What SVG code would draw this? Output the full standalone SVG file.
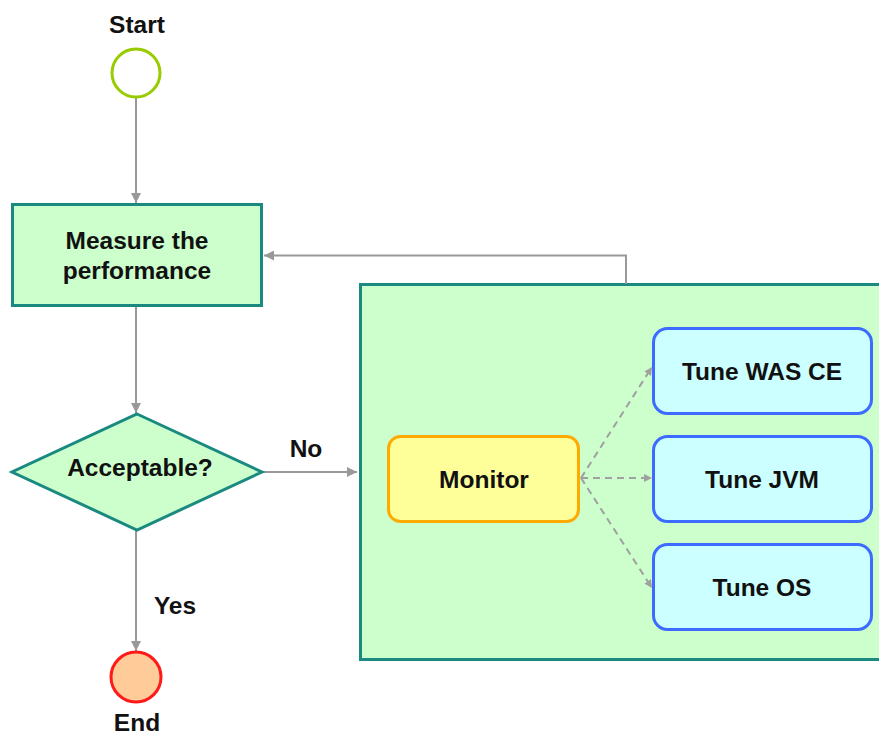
<svg xmlns="http://www.w3.org/2000/svg" width="879" height="736" viewBox="0 0 879 736">
<style>
text{font-family:"Liberation Sans",Arial,sans-serif;font-weight:bold;font-size:24.5px;fill:#111;text-anchor:middle}
.proc{fill:#ccffcc;stroke:#1a8a80;stroke-width:3}
.tune{fill:#ccffff;stroke:#3d6bff;stroke-width:3}
.conn{fill:none;stroke:#999;stroke-width:2}
.dash{fill:none;stroke:#a0a0a0;stroke-width:2;stroke-dasharray:7 5}
</style>
<defs>
<marker id="ah" viewBox="0 0 10 10" refX="10" refY="5" markerWidth="10" markerHeight="10" markerUnits="userSpaceOnUse" orient="auto">
<path d="M0,0 L10,5 L0,10 z" fill="#999"/>
</marker>
<marker id="ahs" viewBox="0 0 10 10" refX="10" refY="5" markerWidth="8" markerHeight="8" markerUnits="userSpaceOnUse" orient="auto">
<path d="M0,0 L10,5 L0,10 z" fill="#a0a0a0"/>
</marker>
</defs>
<rect width="879" height="736" fill="#fff"/>
<g id="group">
<rect class="proc" x="360.5" y="284.5" width="522" height="375"/>
</g>
<g id="connectors">
<line class="conn" x1="136" y1="97" x2="136" y2="203" marker-end="url(#ah)"/>
<line class="conn" x1="136" y1="306" x2="136" y2="413" marker-end="url(#ah)"/>
<line class="conn" x1="262" y1="472" x2="357" y2="472" marker-end="url(#ah)"/>
<line class="conn" x1="136" y1="530" x2="136" y2="651" marker-end="url(#ah)"/>
<polyline class="conn" points="626,284 626,255.5 264,255.5" marker-end="url(#ah)"/>
<line class="dash" x1="581" y1="478" x2="652" y2="367" marker-end="url(#ahs)"/>
<line class="dash" x1="581" y1="478" x2="652" y2="478" marker-end="url(#ahs)"/>
<line class="dash" x1="581" y1="478" x2="652" y2="588" marker-end="url(#ahs)"/>
<text x="306" y="457">No</text>
<text x="175" y="614">Yes</text>
</g>
<g id="start">
<text x="137" y="33">Start</text>
<circle cx="136" cy="73" r="24" fill="#fff" stroke="#99cc00" stroke-width="3"/>
</g>
<g id="measure">
<rect class="proc" x="12.5" y="204.5" width="249" height="101"/>
<text x="137" y="249">Measure the</text>
<text x="137" y="279">performance</text>
</g>
<g id="acceptable">
<polygon class="proc" points="137,414 262,472 137,530 12,472"/>
<text x="140" y="476">Acceptable?</text>
</g>
<g id="end">
<circle cx="136" cy="677" r="25" fill="#ffcc99" stroke="#ff1a1a" stroke-width="3"/>
<text x="137" y="731">End</text>
</g>
<g id="monitor">
<rect x="388.5" y="436.5" width="190" height="85" rx="12" fill="#ffff99" stroke="#ffaa00" stroke-width="3"/>
<text x="484" y="488">Monitor</text>
</g>
<g id="tune-was">
<rect class="tune" x="653.5" y="328.5" width="218" height="85" rx="14"/>
<text x="762" y="380">Tune WAS CE</text>
</g>
<g id="tune-jvm">
<rect class="tune" x="653.5" y="436.5" width="218" height="85" rx="14"/>
<text x="762" y="488">Tune JVM</text>
</g>
<g id="tune-os">
<rect class="tune" x="653.5" y="544.5" width="218" height="85" rx="14"/>
<text x="762" y="596">Tune OS</text>
</g>
</svg>
